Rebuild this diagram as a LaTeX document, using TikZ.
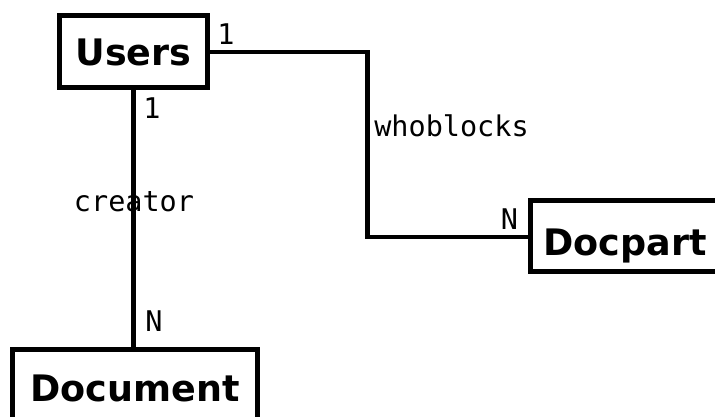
\documentclass[tikz,border=0pt]{standalone}
\usepackage{fontspec}
\setmainfont{DejaVu Sans}
\newfontfamily\labelfont{DejaVu Sans Mono}
\begin{document}
\begin{tikzpicture}[x=1pt,y=-1pt,
  entity/.style={draw=black, line width=5pt, inner sep=0pt,
    font=\fontsize{36.5}{40}\selectfont\bfseries, text depth=0pt},
  link/.style={draw=black, line width=4.6pt},
  tag/.style={inner sep=0pt, font=\labelfont\fontsize{28.5}{30}\selectfont}]
  \useasboundingbox (0,0) rectangle (715,416);
  \clip (0,0) rectangle (715,416);

  % entities
  \node[entity, minimum width=148pt, minimum height=72pt, text height=27pt]
    (users) at (133.5,51.5) {Users};
  \node[entity, minimum width=190pt, minimum height=70.5pt, text height=38.5pt]
    (docpart) at (625,235.75) {Docpart};
  \node[entity, minimum width=245pt, minimum height=70pt, text height=34.4pt]
    (document) at (135,384.5) {Document};

  % relationships
  \coordinate (bend) at (367.5,140);
  \draw[link] (users.east |- 0,52) -| (bend) |- (docpart.west |- 0,237);
  \draw[link] (users.south -| 133.5,0) -- (document.north -| 133.5,0);

  % relationship and cardinality labels
  \node[tag] (whoblocks) at (451.5,126) {whoblocks};
  \node[tag] (creator) at (134,202) {creator};
  \node[tag] (c1) at (226,34) {1};
  \node[tag] (c2) at (152,108) {1};
  \node[tag] (c3) at (509.5,219.5) {N};
  \node[tag] (c4) at (154,321.5) {N};
\end{tikzpicture}
\end{document}
